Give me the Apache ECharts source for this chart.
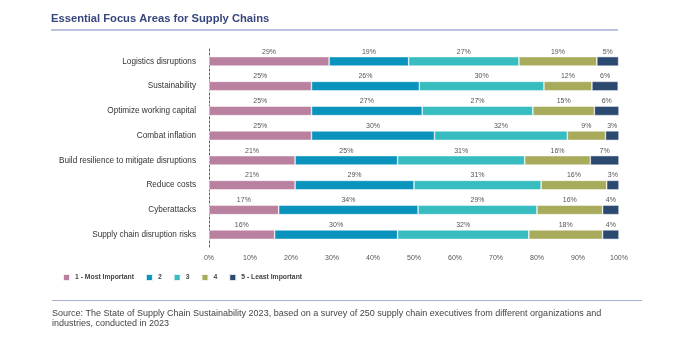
<!DOCTYPE html>
<html>
<head>
<meta charset="utf-8">
<script src="https://cdn.jsdelivr.net/npm/echarts@6/dist/echarts.min.js"></script>
<style>
html,body{margin:0;padding:0;background:#fff;}
#c{width:693px;height:345px;}
</style>
</head>
<body>
<div id="c"></div>
<script>
var categories = ["Logistics disruptions","Sustainability","Optimize working capital","Combat inflation","Build resilience to mitigate disruptions","Reduce costs","Cyberattacks","Supply chain disruption risks"];
var seriesNames = ["1 - Most Important","2","3","4","5 - Least Important"];
var rank1 = [29.3, 25, 25, 25, 21, 21, 17, 16];
var rank2 = [19.4, 26.3, 27, 30, 25, 29, 34, 30];
var rank3 = [26.9, 30.4, 27, 32.4, 31, 31, 29, 32];
var rank4 = [19, 11.7, 15, 9.3, 16, 16, 16, 18];
var rank5 = [5.3, 6.4, 6, 3.3, 7, 3, 4, 4];
var tickLabels = ["0%","10%","20%","30%","40%","50%","60%","70%","80%","90%","100%"];
var colors = ["#b9819f","#0a93bd","#37bcc0","#a8ab5b","#2c4a70"];

var FONT = "'Liberation Sans', Arial, sans-serif";
var allData = [rank1, rank2, rank3, rank4, rank5];

var chart = echarts.init(document.getElementById('c'), null, {renderer: 'canvas'});
var series = seriesNames.map(function(name, i){
  return {
    name: name,
    type: 'bar',
    stack: 'total',
    data: allData[i],
    barWidth: 9.5,
    itemStyle: {color: colors[i], borderColor: 'rgba(255,255,255,0.85)', borderWidth: 0.6},
    label: {
      show: true, position: 'top', distance: 1.5,
      fontFamily: FONT, fontSize: 7, color: '#555',
      formatter: function(p){ return Math.round(p.value) + '%'; }
    },
    emphasis: {disabled: true}
  };
});

chart.setOption({
  animation: false,
  color: colors,
  title: [
    {text: 'Essential Focus Areas for Supply Chains', left: 51, top: 13, padding: 0,
     textStyle: {fontFamily: FONT, fontSize: 11.2, fontWeight: 'bold', color: '#38467e'}},
    {text: 'Source: The State of Supply Chain Sustainability 2023, based on a survey of 250 supply chain executives from different organizations and\nindustries, conducted in 2023',
     left: 52, top: 309, padding: 0,
     textStyle: {fontFamily: FONT, fontSize: 9, fontWeight: 'normal', color: '#444', lineHeight: 10}}
  ],
  grid: {left: 209, right: 74, top: 49, bottom: 98, containLabel: false},
  legend: {
    data: seriesNames, left: 62, top: 273, padding: 0, itemWidth: 7, itemHeight: 7, itemGap: 11,
    icon: 'rect',
    textStyle: {fontFamily: FONT, fontSize: 6.8, fontWeight: 'bold', color: '#444'}
  },
  xAxis: {
    type: 'value', min: 0, max: 100, interval: 10,
    axisLine: {show: false}, axisTick: {show: false}, splitLine: {show: false},
    axisLabel: {fontFamily: FONT, fontSize: 7, color: '#555', margin: 8,
      formatter: function(v){ return tickLabels[Math.round(v/10)]; }}
  },
  yAxis: {
    type: 'category', data: categories, inverse: true, offset: 4,
    axisLine: {show: true, lineStyle: {color: '#4a5a8a', width: 1, type: [2, 2]}},
    axisTick: {show: false},
    axisLabel: {fontFamily: FONT, fontSize: 8.2, color: '#333', margin: 9}
  },
  series: series,
  graphic: [
    {type: 'line', shape: {x1: 51, y1: 30, x2: 618, y2: 30}, style: {stroke: '#a7aed6', lineWidth: 1.5}},
    {type: 'line', shape: {x1: 52, y1: 300.5, x2: 642, y2: 300.5}, style: {stroke: '#a7aed6', lineWidth: 1}}
  ]
});
</script>
</body>
</html>
